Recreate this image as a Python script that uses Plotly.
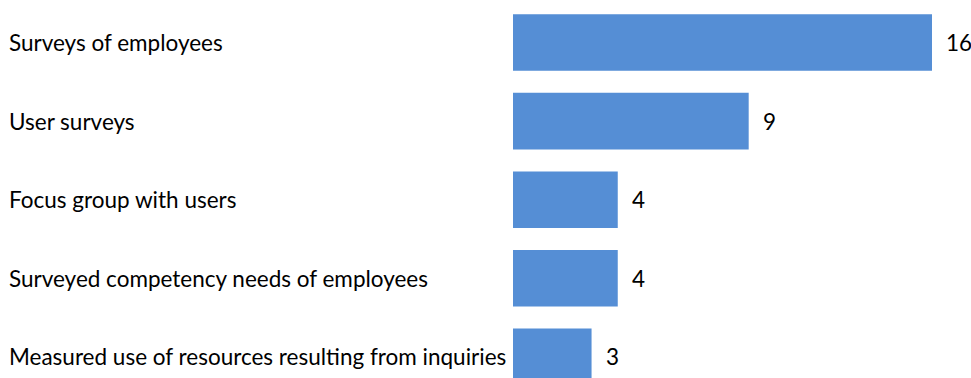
import plotly.graph_objects as go

categories = [
    "Surveys of employees",
    "User surveys",
    "Focus group with users",
    "Surveyed competency needs of employees",
    "Measured use of resources resulting from inquiries",
]
values = [16, 9, 4, 4, 3]

BAR_COLOR = "#558ED5"
FONT = dict(family="Lato, 'Open Sans', sans-serif", size=22.5, color="#000000")

W, H = 971, 378
LEFT = 513
positions = list(range(len(categories)))

fig = go.Figure(
    go.Bar(
        x=values,
        y=positions,
        orientation="h",
        marker=dict(color=BAR_COLOR, line=dict(width=0)),
        width=0.72,
        hoverinfo="skip",
    )
)

# category labels, left-aligned at the page edge
plot_w = W - LEFT
for pos, name in zip(positions, categories):
    fig.add_annotation(
        x=(7 - LEFT) / plot_w, xref="paper", xanchor="left",
        y=pos, yref="y", yanchor="middle",
        text=name, showarrow=False, font=FONT,
    )

# value labels beside each bar
for pos, v in zip(positions, values):
    fig.add_annotation(
        x=v, xref="x", xanchor="left", xshift=12,
        y=pos, yref="y", yanchor="middle",
        text=str(v), showarrow=False, font=FONT,
    )

fig.update_layout(
    width=W, height=H,
    margin=dict(l=LEFT, r=0, t=0, b=0),
    paper_bgcolor="white", plot_bgcolor="white",
    showlegend=False,
    xaxis=dict(range=[0, plot_w / (419 / 16)], visible=False, fixedrange=True),
    yaxis=dict(range=[(378 - 42.5) / 78.6, -42.5 / 78.6], visible=False, fixedrange=True),
)

fig.write_html("out.html")
